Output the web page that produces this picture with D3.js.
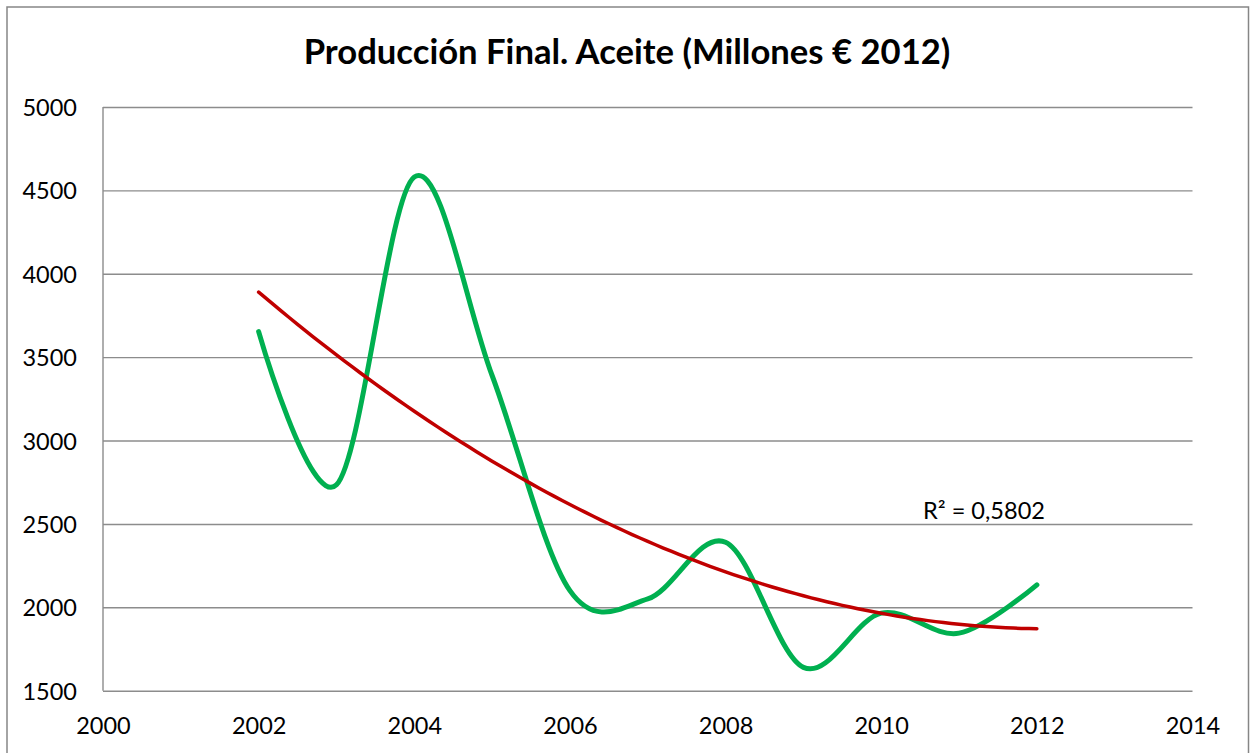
<!DOCTYPE html>
<html>
<head>
<meta charset="utf-8">
<script src="https://cdn.jsdelivr.net/npm/d3@7"></script>
<style>
  html, body { margin: 0; padding: 0; background: #fff; }
  svg { display: block; }
  text { font-family: "Lato", "Open Sans", sans-serif; fill: #000; }
</style>
</head>
<body>
<svg id="chart" width="1256" height="753"></svg>
<script>
const title = "Producción Final. Aceite (Millones € 2012)";
const years = [2002, 2003, 2004, 2005, 2006, 2007, 2008, 2009, 2010, 2011, 2012];
const values = [3653, 2735, 4580, 3390, 2100, 2050, 2390, 1640, 1965, 1845, 2135];
const xTicks = [2000, 2002, 2004, 2006, 2008, 2010, 2012, 2014];
const yTicks = [1500, 2000, 2500, 3000, 3500, 4000, 4500, 5000];
const r2Label = "R² = 0,5802";

(function () {
const svg = d3.select("#chart");
const pLeft = 103, pRight = 1192.5, pTop = 107, pBottom = 690.7;

// outer chart border
svg.append("rect").attr("x", 7).attr("y", 7).attr("width", 1241.5).attr("height", 760)
  .attr("fill", "#fff").attr("stroke", "#868686").attr("stroke-width", 1.5);

const x = d3.scaleLinear().domain([2000, 2014]).range([pLeft, pRight]);
const y = d3.scaleLinear().domain([1500, 5000]).range([pBottom, pTop]);

// y axis with gridlines
const gy = svg.append("g").attr("transform", `translate(${pLeft},0)`)
  .call(d3.axisLeft(y).tickValues(yTicks).tickSize(-(pRight - pLeft)).tickPadding(26).tickFormat(d3.format("d")));
gy.select(".domain").remove();
gy.selectAll(".tick line").attr("stroke", "#8c8c8c").attr("stroke-width", 1.4);
gy.selectAll(".tick text").attr("font-size", 23.5).attr("dy", "0.36em").attr("fill", "#000")
  .style("font-family", "Lato, 'Open Sans', sans-serif");

// left axis line
svg.append("line").attr("x1", pLeft).attr("x2", pLeft).attr("y1", pTop).attr("y2", pBottom)
  .attr("stroke", "#8c8c8c").attr("stroke-width", 1.4);

// x axis labels
const gx = svg.append("g").attr("transform", `translate(0,${pBottom})`)
  .call(d3.axisBottom(x).tickValues(xTicks).tickSize(0).tickPadding(0).tickFormat(d3.format("d")));
gx.select(".domain").remove();
gx.selectAll(".tick text").attr("font-size", 23.5).attr("y", 43.3).attr("dy", 0).attr("fill", "#000")
  .style("font-family", "Lato, 'Open Sans', sans-serif");

// data line
const data = years.map((yr, i) => ({ x: yr, y: values[i] }));
const line = d3.line().x(d => x(d.x)).y(d => y(d.y)).curve(d3.curveCardinal.tension(0));
svg.append("path").datum(data).attr("d", line)
  .attr("fill", "none").attr("stroke", "#00B050").attr("stroke-width", 5)
  .attr("stroke-linecap", "round").attr("stroke-linejoin", "round");

// quadratic trend line (least squares)
function polyfit2(xs, ys) {
  const mx = d3.mean(xs);
  const t = xs.map(v => v - mx);
  const s = [0,0,0,0,0], sy = [0,0,0];
  t.forEach((ti, i) => {
    for (let k = 0; k < 5; k++) s[k] += Math.pow(ti, k);
    for (let k = 0; k < 3; k++) sy[k] += Math.pow(ti, k) * ys[i];
  });
  const A = [[s[0], s[1], s[2]], [s[1], s[2], s[3]], [s[2], s[3], s[4]]];
  const b = sy.slice();
  for (let i = 0; i < 3; i++) {
    for (let j = i + 1; j < 3; j++) {
      const f = A[j][i] / A[i][i];
      for (let k = i; k < 3; k++) A[j][k] -= f * A[i][k];
      b[j] -= f * b[i];
    }
  }
  const c = [0,0,0];
  for (let i = 2; i >= 0; i--) {
    let sum = b[i];
    for (let k = i + 1; k < 3; k++) sum -= A[i][k] * c[k];
    c[i] = sum / A[i][i];
  }
  return v => c[0] + c[1] * (v - mx) + c[2] * (v - mx) * (v - mx);
}
const fit = polyfit2(years, values);
const trend = d3.range(0, 101).map(i => {
  const xv = years[0] + (years[years.length - 1] - years[0]) * i / 100;
  return { x: xv, y: fit(xv) };
});
svg.append("path").datum(trend).attr("d", d3.line().x(d => x(d.x)).y(d => y(d.y)))
  .attr("fill", "none").attr("stroke", "#C00000").attr("stroke-width", 3.5)
  .attr("stroke-linecap", "round");

// R² label
const rl = svg.append("text").attr("x", 984).attr("y", 519).attr("text-anchor", "middle")
  .attr("font-size", 22).text(r2Label);
const rw = rl.node().getComputedTextLength();
if (rw > 0) rl.attr("font-size", 22 * 122 / rw);

// title
const tt = svg.append("text").attr("x", 627).attr("y", 64).attr("text-anchor", "middle")
  .attr("font-size", 30).attr("font-weight", "bold").text(title);
const tw = tt.node().getComputedTextLength();
if (tw > 0) tt.attr("font-size", 30 * 647 / tw);
})();
</script>
</body>
</html>
